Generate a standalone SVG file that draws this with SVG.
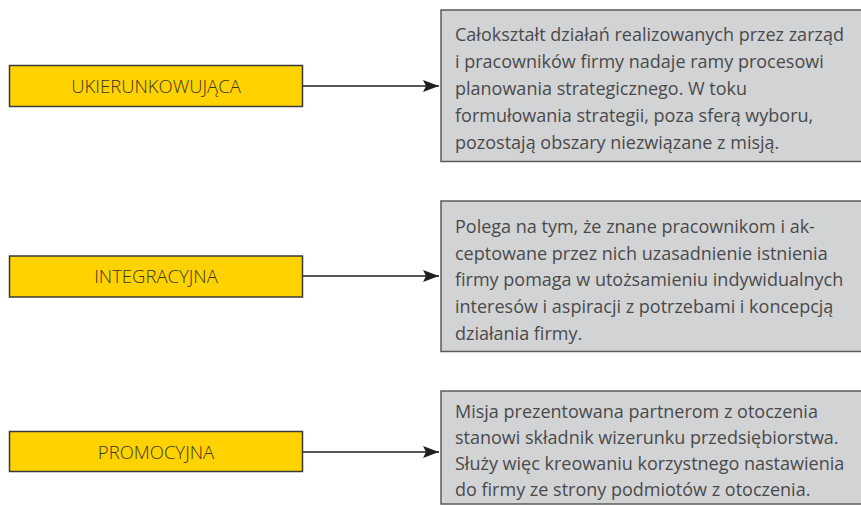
<svg xmlns="http://www.w3.org/2000/svg" width="861" height="505" viewBox="0 0 861 505">
  <defs>
    <marker id="arrow" markerWidth="16" markerHeight="12" refX="16" refY="6" orient="auto" markerUnits="userSpaceOnUse">
      <path d="M0,0 L16,6 L0,12 L3,6 Z" fill="#231f20"/>
    </marker>
    <style>
      .func rect { fill: #ffd200; stroke: #3a3a3a; stroke-width: 1.5; }
      .func text { font-family: "Open Sans", "Noto Sans", sans-serif; font-size: 18.5px; font-weight: 300; fill: #3b3624; text-anchor: middle; }
      .desc rect { fill: #d2d3d5; stroke: #5b5b5b; stroke-width: 1.5; }
      .desc text { font-family: "Open Sans", "Noto Sans", sans-serif; font-size: 18px; fill: #4a4a4a; }
      .conn line { stroke: #231f20; stroke-width: 1.5; marker-end: url(#arrow); }
    </style>
  </defs>
  <rect width="861" height="505" fill="#ffffff"/>

  <!-- function labels -->
  <g id="ukierunkowujaca" class="func">
    <rect x="9.5" y="65.5" width="293" height="41"/>
    <text x="156" y="92.5">UKIERUNKOWUJĄCA</text>
  </g>
  <g id="integracyjna" class="func">
    <rect x="9.5" y="256" width="293" height="41"/>
    <text x="156" y="283">INTEGRACYJNA</text>
  </g>
  <g id="promocyjna" class="func">
    <rect x="9.5" y="431.5" width="293" height="40"/>
    <text x="156" y="458.5">PROMOCYJNA</text>
  </g>

  <!-- descriptions -->
  <g id="opis-ukierunkowujaca" class="desc">
    <rect x="441" y="10" width="430" height="151.5"/>
    <text x="455" y="41">Całokształt działań realizowanych przez zarząd</text>
    <text x="455" y="68">i pracowników firmy nadaje ramy procesowi</text>
    <text x="455" y="95">planowania strategicznego. W toku</text>
    <text x="455" y="122">formułowania strategii, poza sferą wyboru,</text>
    <text x="455" y="149">pozostają obszary niezwiązane z misją.</text>
  </g>
  <g id="opis-integracyjna" class="desc">
    <rect x="441" y="201" width="430" height="150.5"/>
    <text x="455" y="233">Polega na tym, że znane pracownikom i ak-</text>
    <text x="455" y="260">ceptowane przez nich uzasadnienie istnienia</text>
    <text x="455" y="286">firmy pomaga w utożsamieniu indywidualnych</text>
    <text x="455" y="313">interesów i aspiracji z potrzebami i koncepcją</text>
    <text x="455" y="340">działania firmy.</text>
  </g>
  <g id="opis-promocyjna" class="desc">
    <rect x="441" y="391" width="430" height="113"/>
    <text x="455" y="418">Misja prezentowana partnerom z otoczenia</text>
    <text x="455" y="444">stanowi składnik wizerunku przedsiębiorstwa.</text>
    <text x="455" y="470">Służy więc kreowaniu korzystnego nastawienia</text>
    <text x="455" y="496">do firmy ze strony podmiotów z otoczenia.</text>
  </g>

  <!-- connectors -->
  <g id="connectors" class="conn">
    <line x1="302.5" y1="86" x2="439" y2="86"/>
    <line x1="302.5" y1="276" x2="439" y2="276"/>
    <line x1="302.5" y1="452" x2="439" y2="452"/>
  </g>
</svg>
